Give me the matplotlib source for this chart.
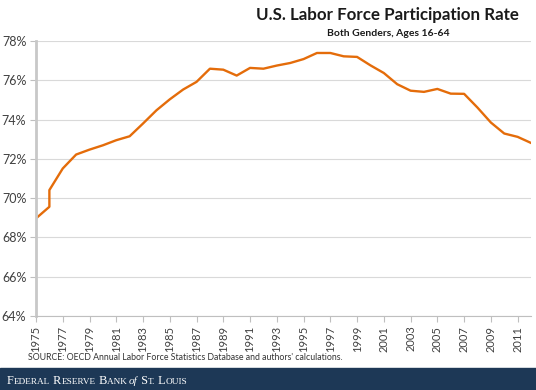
import matplotlib
matplotlib.use('Agg')

import matplotlib.pyplot as plt
from matplotlib.patches import Rectangle

# U.S. labor force participation rate, both genders, ages 16-64 (percent)
# 1976 appears twice: series break in the source data
years = [1975, 1976, 1976, 1977, 1978, 1979, 1980, 1981, 1982, 1983,
         1984, 1985, 1986, 1987, 1988, 1989, 1990, 1991, 1992, 1993,
         1994, 1995, 1996, 1997, 1998, 1999, 2000, 2001, 2002, 2003,
         2004, 2005, 2006, 2007, 2008, 2009, 2010, 2011, 2012]
rate = [68.97, 69.56, 70.41, 71.51, 72.22, 72.47, 72.69, 72.95, 73.15, 73.80,
        74.47, 75.03, 75.53, 75.92, 76.59, 76.54, 76.24, 76.63, 76.59, 76.75,
        76.88, 77.08, 77.39, 77.39, 77.22, 77.19, 76.76, 76.37, 75.80, 75.47,
        75.41, 75.56, 75.32, 75.31, 74.61, 73.85, 73.29, 73.12, 72.81]

xticks = list(range(1975, 2012, 2))
yticks = list(range(64, 79, 2))

W, H = 536, 390
fig = plt.figure(figsize=(W / 100, H / 100), dpi=100)
ax = fig.add_axes([36 / W, 1 - 316 / H, 495 / W, 275 / H])

ax.plot(years, rate, color='#E46C0A', lw=1.7)

ax.set_xlim(1975, 2012)
ax.set_ylim(64, 78)
ax.set_yticks(yticks)
ax.set_yticklabels(['%d%%' % v for v in yticks])
ax.set_xticks(xticks)
ax.set_xticklabels([str(y) for y in xticks], rotation=90)
ax.grid(axis='y', color='#d9d9d9', lw=0.8)
ax.set_axisbelow(True)

for s in ['top', 'right']:
    ax.spines[s].set_visible(False)
ax.spines['left'].set_color('#c8c8c8')
ax.spines['left'].set_linewidth(2)
ax.spines['bottom'].set_color('#bfbfbf')
ax.spines['bottom'].set_linewidth(0.8)
ax.tick_params(axis='y', length=4, color='#bfbfbf', labelsize=9,
               labelcolor='#404040', pad=3)
ax.tick_params(axis='x', length=4, color='#bfbfbf', labelsize=8,
               labelcolor='#404040', pad=3)
for lab in ax.get_xticklabels() + ax.get_yticklabels():
    lab.set_family('Lato')

fig.text(519 / W, 1 - 15 / H, 'U.S. Labor Force Participation Rate',
         ha='right', va='center', fontsize=12.2, fontweight='bold',
         family='Lato', color='#1a1a1a')
fig.text(388 / W, 1 - 34 / H, 'Both Genders, Ages 16-64',
         ha='center', va='center', fontsize=7.5, fontweight='bold',
         family='Lato', color='#1a1a1a')
fig.text(28 / W, 1 - 357 / H,
         "SOURCE: OECD Annual Labor Force Statistics Database and authors' calculations.",
         ha='left', va='center', fontsize=6.3, family='Lato', color='#333333')

# footer band
fig.patches.append(Rectangle((0, 0), 1, 22 / H, transform=fig.transFigure,
                             color='#1d3856', zorder=0))

# fake small caps for the footer name
pieces = [('F', 8.8, 'normal'), ('EDERAL', 6.7, 'normal'),
          (' R', 8.8, 'normal'), ('ESERVE', 6.7, 'normal'),
          (' B', 8.8, 'normal'), ('ANK ', 6.7, 'normal'),
          ('of', 8, 'italic'), (' S', 8.8, 'normal'),
          ('T.', 6.7, 'normal'), (' L', 8.8, 'normal'), ('OUIS', 6.7, 'normal')]
renderer = fig.canvas.get_renderer()
x = 7 / W
for txt, size, style in pieces:
    t = fig.text(x, 1 - 384 / H, txt, ha='left', va='baseline', fontsize=size,
                 fontstyle=style, family='Liberation Serif', color='white')
    x += t.get_window_extent(renderer).width / W

fig.savefig('out.png', dpi=100)
